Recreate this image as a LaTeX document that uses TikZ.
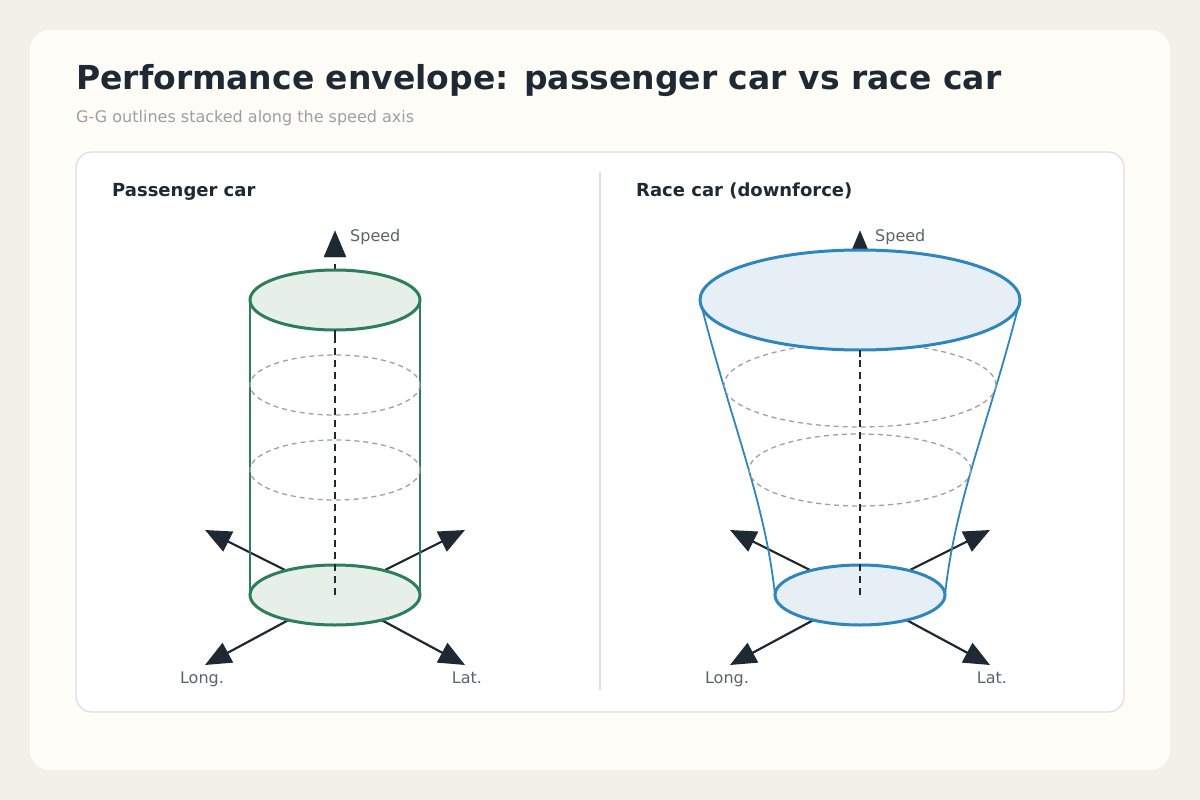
\documentclass[tikz,border=0pt]{standalone}
\usepackage{fontspec}
\setmainfont{DejaVu Sans}
\usetikzlibrary{arrows.meta}
\definecolor{bg}{HTML}{F3F0EA}
\definecolor{card}{HTML}{FFFDF8}
\definecolor{ink}{HTML}{1F2933}
\definecolor{sub}{HTML}{9AA0A6}
\definecolor{lab}{HTML}{5F6368}
\definecolor{grn}{HTML}{2E7D5B}
\definecolor{grnf}{HTML}{E6F0E9}
\definecolor{blu}{HTML}{2E86BD}
\definecolor{bluf}{HTML}{E6EFF6}
\definecolor{gg}{HTML}{A0A0A0}
\begin{document}
\begin{tikzpicture}[x=1pt,y=-1pt,
  axis/.style={ink,line width=2.5pt,dash pattern=on 7pt off 5pt},
  vec/.style={ink,line width=2.2pt,-{Triangle[length=26pt,width=22pt]}},
  ghost/.style={gg,line width=1.3pt,dash pattern=on 5pt off 4pt},
  lbl/.style={font=\fontsize{16}{16}\selectfont,text=lab},
  head/.style={font=\bfseries\fontsize{18}{18}\selectfont,text=ink,anchor=base west}]
\useasboundingbox (0,0) rectangle (1200,800);
\fill[bg] (0,0) rectangle (1200,800);
\fill[card,rounded corners=20pt] (30,30) rectangle (1170,770);
\node[anchor=base west,inner sep=0,font=\bfseries\fontsize{33}{33}\selectfont,text=ink] (title) at (76,89) {Performance envelope: passenger car vs race car};
\node[anchor=base west,inner sep=0,font=\fontsize{16}{16}\selectfont,text=sub] (subt) at (76,122) {G-G outlines stacked along the speed axis};
\draw[fill=white,draw=black!13,line width=1.3pt,rounded corners=16pt] (76,152) rectangle (1124,712);
\draw[black!13,line width=1.5pt] (600,172) -- (600,690);
\node[head,inner sep=0] (h1) at (112,196) {Passenger car};
\node[head,inner sep=0] (h2) at (636,196) {Race car (downforce)};
% left
\coordinate (lc) at (335,595);
\coordinate (lt) at (335,230);
\draw[vec] (lc) -- (205,530);
\draw[vec] (lc) -- (465,530);
\draw[vec] (lc) -- (205,665);
\draw[vec] (lc) -- (465,665);
\draw[grn,line width=1.8pt] (250,300) -- (250,595) (420,300) -- (420,595);
\draw[ghost] (335,385) ellipse [x radius=85,y radius=30];
\draw[ghost] (335,470) ellipse [x radius=85,y radius=30];
\draw[grn,fill=grnf,line width=3pt] (lc) ellipse [x radius=85,y radius=30];
\draw[axis] (335,595) -- (335,262);
\draw[ink,fill=ink] (335,231) -- (346,257) -- (324,257) -- cycle;
\draw[grn,fill=grnf,line width=3pt] (335,300) ellipse [x radius=85,y radius=30];
\draw[axis] (335,330) -- (335,340);
\node[lbl,anchor=base west,inner sep=0] (s1) at (350,241) {Speed};
\node[lbl,anchor=base,inner sep=0] (lo1) at (202,683) {Long.};
\node[lbl,anchor=base,inner sep=0] (la1) at (467,683) {Lat.};
% right
\coordinate (rc) at (860,595);
\draw[vec] (rc) -- (730,530);
\draw[vec] (rc) -- (990,530);
\draw[vec] (rc) -- (730,665);
\draw[vec] (rc) -- (990,665);
\draw[blu,line width=1.8pt] (700,300) .. controls (730,420) and (765,500) .. (775,595);
\draw[blu,line width=1.8pt] (1020,300) .. controls (990,420) and (955,500) .. (945,595);
\draw[ghost] (860,385) ellipse [x radius=136,y radius=42];
\draw[ghost] (860,470) ellipse [x radius=111,y radius=36];
\draw[blu,fill=bluf,line width=3pt] (rc) ellipse [x radius=85,y radius=30];
\draw[axis] (860,595) -- (860,300);
\draw[ink,fill=ink] (860,231) -- (868,250) -- (852,250) -- cycle;
\draw[blu,fill=bluf,line width=3pt] (860,300) ellipse [x radius=160,y radius=50];
\draw[axis] (860,350) -- (860,362);
\node[lbl,anchor=base west,inner sep=0] (s2) at (875,241) {Speed};
\node[lbl,anchor=base,inner sep=0] (lo2) at (727,683) {Long.};
\node[lbl,anchor=base,inner sep=0] (la2) at (992,683) {Lat.};
\end{tikzpicture}
\end{document}
